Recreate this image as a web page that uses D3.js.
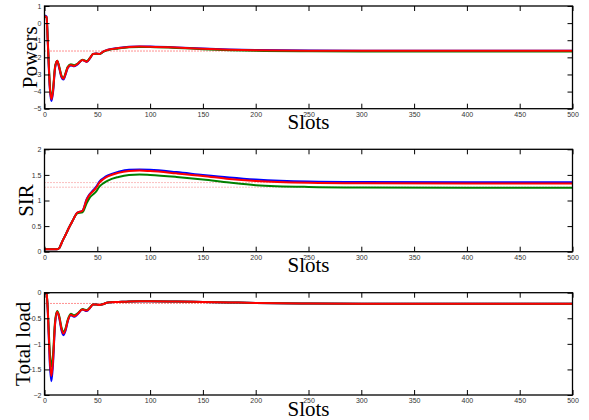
<!DOCTYPE html>
<html>
<head>
<meta charset="utf-8">
<script src="https://cdn.jsdelivr.net/npm/d3@7"></script>
<style>
  body { margin: 0; background: #fff; }
  svg { display: block; }
  .tick text { font-family: "Liberation Sans", Arial, sans-serif; font-size: 7px; fill: #333; }
  .tick line { stroke: #000; stroke-width: 1; }
  .lbl { font-family: "Liberation Serif", "Times New Roman", serif; font-size: 21px; fill: #000; }
</style>
</head>
<body>
<svg id="chart" width="589" height="420"></svg>
<script>
// sample slots shared by all series
var slots = [0, 2, 3, 4, 5, 6.5, 8, 10, 12, 14, 16, 18, 20, 22, 25, 28, 31, 36, 40, 43, 46, 49, 52, 56, 60, 70, 80, 90, 100, 125, 150, 175, 200, 250, 300, 400, 500];

// Powers
var powBlue  = [0.45, 0.38, -0.95, -2.5, -3.8, -4.55, -4.1, -2.65, -2.22, -2.65, -3.15, -3.3, -3.0, -2.62, -2.47, -2.52, -2.42, -2.16, -2.27, -2.06, -1.8, -1.78, -1.8, -1.65, -1.56, -1.45, -1.38, -1.36, -1.37, -1.42, -1.49, -1.54, -1.57, -1.6, -1.61, -1.61, -1.61];
var powGreen = [0.4, 0.33, -0.85, -2.3, -3.55, -4.35, -3.9, -2.55, -2.2, -2.55, -3.05, -3.2, -2.9, -2.55, -2.4, -2.46, -2.38, -2.14, -2.22, -2.03, -1.8, -1.79, -1.81, -1.67, -1.58, -1.48, -1.41, -1.39, -1.4, -1.45, -1.52, -1.58, -1.62, -1.65, -1.66, -1.66, -1.66];
var powRed   = [0.4, 0.35, -0.9, -2.4, -3.7, -4.45, -4.0, -2.6, -2.2, -2.6, -3.1, -3.25, -2.95, -2.6, -2.45, -2.5, -2.4, -2.15, -2.25, -2.05, -1.8, -1.78, -1.8, -1.65, -1.56, -1.46, -1.39, -1.37, -1.38, -1.43, -1.5, -1.55, -1.58, -1.61, -1.62, -1.62, -1.62];

// SIR
var sirBlue  = [0.05, 0.05, 0.05, 0.05, 0.05, 0.05, 0.05, 0.05, 0.05, 0.07, 0.16, 0.25, 0.33, 0.42, 0.54, 0.66, 0.76, 0.8, 1.03, 1.13, 1.2, 1.27, 1.37, 1.44, 1.49, 1.56, 1.6, 1.605, 1.6, 1.555, 1.5, 1.45, 1.41, 1.37, 1.36, 1.355, 1.355];
var sirGreen = [0.05, 0.05, 0.05, 0.05, 0.05, 0.05, 0.05, 0.05, 0.05, 0.07, 0.16, 0.25, 0.33, 0.42, 0.54, 0.66, 0.75, 0.77, 0.95, 1.06, 1.12, 1.18, 1.27, 1.34, 1.39, 1.46, 1.5, 1.51, 1.5, 1.46, 1.41, 1.35, 1.3, 1.265, 1.255, 1.25, 1.25];
var sirRed   = [0.05, 0.05, 0.05, 0.05, 0.05, 0.05, 0.05, 0.05, 0.05, 0.07, 0.16, 0.25, 0.33, 0.42, 0.54, 0.66, 0.76, 0.8, 1.02, 1.12, 1.18, 1.25, 1.35, 1.42, 1.47, 1.54, 1.575, 1.585, 1.575, 1.53, 1.48, 1.42, 1.38, 1.345, 1.335, 1.33, 1.33];

// Total load
var loadBlue  = [0, -0.02, -0.32, -0.85, -1.38, -1.73, -1.42, -0.62, -0.37, -0.5, -0.73, -0.83, -0.74, -0.56, -0.44, -0.47, -0.43, -0.33, -0.36, -0.3, -0.23, -0.23, -0.24, -0.22, -0.19, -0.18, -0.17, -0.165, -0.165, -0.17, -0.18, -0.19, -0.2, -0.21, -0.215, -0.215, -0.215];
var loadGreen = [0, -0.02, -0.28, -0.72, -1.15, -1.45, -1.22, -0.56, -0.36, -0.46, -0.67, -0.76, -0.69, -0.53, -0.41, -0.44, -0.41, -0.32, -0.34, -0.29, -0.23, -0.23, -0.24, -0.22, -0.19, -0.18, -0.17, -0.165, -0.165, -0.17, -0.18, -0.19, -0.2, -0.21, -0.215, -0.215, -0.215];
var loadRed   = [0, -0.02, -0.3, -0.8, -1.3, -1.63, -1.35, -0.6, -0.37, -0.48, -0.7, -0.8, -0.72, -0.55, -0.43, -0.46, -0.42, -0.33, -0.35, -0.3, -0.23, -0.23, -0.24, -0.22, -0.19, -0.18, -0.17, -0.165, -0.165, -0.17, -0.18, -0.19, -0.2, -0.21, -0.215, -0.215, -0.215];

// dotted target levels
var powTarget = [-1.63];
var sirTarget = [1.35, 1.26];
var loadTarget = [-0.21];

var xTicks = [0, 50, 100, 150, 200, 250, 300, 350, 400, 450, 500];
var powTicks = [-5, -4, -3, -2, -1, 0, 1];
var sirTicks = [0, 0.5, 1, 1.5, 2];
var loadTicks = [-2, -1.5, -1, -0.5, 0];

var colors = ["#0000ff", "#008000", "#ff0000"];

var panels = [
  {label: "Powers", series: [powBlue, powGreen, powRed], yDomain: [-5, 1], yTicks: powTicks, targets: powTarget, tcol: "#ff2020", top: 6, bottom: 108.7, lx: 36.5},
  {label: "SIR", series: [sirBlue, sirGreen, sirRed], yDomain: [0, 2], yTicks: sirTicks, targets: sirTarget, tcol: "#f47c7c", top: 149.3, bottom: 251.7, lx: 33.3},
  {label: "Total load", series: [loadBlue, loadGreen, loadRed], yDomain: [-2, 0], yTicks: loadTicks, targets: loadTarget, tcol: "#ff2020", top: 292.7, bottom: 395, lx: 30}
];

var left = 44.5, right = 572.5;
var svg = d3.select("#chart");
var defs = svg.append("defs");

var x = d3.scaleLinear().domain([0, 500]).range([left, right]);

panels.forEach(function(p, pi) {
  var y = d3.scaleLinear().domain(p.yDomain).range([p.bottom, p.top]);
  var g = svg.append("g");

  defs.append("clipPath").attr("id", "clip" + pi)
    .append("rect")
      .attr("x", left).attr("y", p.top)
      .attr("width", right - left).attr("height", p.bottom - p.top);

  var plot = g.append("g").attr("clip-path", "url(#clip" + pi + ")");

  // dotted reference lines
  plot.selectAll("line.target")
    .data(p.targets)
    .enter().append("line")
      .attr("class", "target")
      .attr("x1", x(0)).attr("x2", x(500))
      .attr("y1", function(d) { return y(d); })
      .attr("y2", function(d) { return y(d); })
      .style("stroke", p.tcol)
      .style("stroke-width", 1)
      .style("stroke-dasharray", "1,2");

  var line = d3.line()
    .x(function(d, i) { return x(slots[i]); })
    .y(function(d) { return y(d); })
    .curve(d3.curveMonotoneX);

  plot.selectAll("path.series")
    .data(p.series)
    .enter().append("path")
      .attr("class", "series")
      .attr("d", line)
      .style("fill", "none")
      .style("stroke", function(d, i) { return colors[i]; })
      .style("stroke-width", 2)
      .style("stroke-linejoin", "round");

  // axes, ticks pointing inward
  g.append("g")
    .attr("transform", "translate(0," + p.bottom + ")")
    .call(d3.axisBottom(x).tickValues(xTicks).tickSizeInner(-5).tickSizeOuter(0).tickPadding(3))
    .call(function(a) { a.select(".domain").remove(); });
  g.append("g")
    .attr("transform", "translate(0," + p.top + ")")
    .call(d3.axisTop(x).tickValues(xTicks).tickSizeInner(-5).tickSizeOuter(0).tickFormat(""))
    .call(function(a) { a.select(".domain").remove(); });
  g.append("g")
    .attr("transform", "translate(" + left + ",0)")
    .call(d3.axisLeft(y).tickValues(p.yTicks).tickSizeInner(-5).tickSizeOuter(0).tickPadding(3).tickFormat(d3.format("")))
    .call(function(a) { a.select(".domain").remove(); });
  g.append("g")
    .attr("transform", "translate(" + right + ",0)")
    .call(d3.axisRight(y).tickValues(p.yTicks).tickSizeInner(-5).tickSizeOuter(0).tickFormat(""))
    .call(function(a) { a.select(".domain").remove(); });

  g.append("rect")
    .attr("x", left).attr("y", p.top)
    .attr("width", right - left).attr("height", p.bottom - p.top)
    .style("fill", "none")
    .style("stroke", "#000")
    .style("stroke-width", 1.3);

  g.append("text")
    .attr("class", "lbl")
    .attr("x", (left + right) / 2)
    .attr("y", p.bottom + 20.6)
    .attr("text-anchor", "middle")
    .text("Slots");

  g.append("text")
    .attr("class", "lbl")
    .attr("transform", "translate(" + p.lx + "," + ((p.top + p.bottom) / 2) + ") rotate(-90)")
    .attr("text-anchor", "middle")
    .text(p.label);
});
</script>
</body>
</html>
